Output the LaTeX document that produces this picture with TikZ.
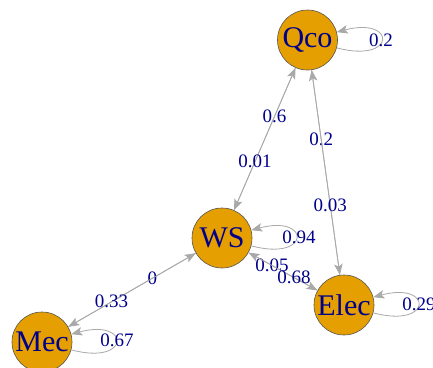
\documentclass[tikz,border=0pt]{standalone}
\usepackage{fontspec}
\setmainfont{Liberation Serif}
\usetikzlibrary{arrows.meta}
\definecolor{nodefill}{HTML}{E69F00}
\definecolor{nodeline}{HTML}{555555}
\definecolor{labblue}{RGB}{0,0,139}
\definecolor{edgegray}{HTML}{A9A9A9}
\begin{document}
\begin{tikzpicture}[x=1pt,y=-1pt,
  state/.style={circle, draw=nodeline, line width=0.6pt, fill=nodefill,
    minimum size=60pt, inner sep=0pt, text=labblue,
    font=\fontsize{30}{30}\selectfont},
  edgeline/.style={draw=edgegray, line width=0.8pt,
    -{Stealth[length=11pt,width=8.5pt,inset=2.5pt,fill=edgegray]}},
  lbl/.style={text=labblue, font=\fontsize{19}{19}\selectfont, inner sep=0pt},
  elbl/.style={lbl, pos=0.34}
]
\useasboundingbox (0,0) rectangle (433,367);
\clip (0,0) rectangle (433,367);

\node[state] (qco) at (307.5,40) {Qco};
\node[state] (ws) at (222,238) {WS};
\node[state] (mec) at (42,342) {Mec};
\node[state] (elec) at (344,305) {Elec};

% edges between nodes
\draw[edgeline] (qco) -- (ws) node[elbl] {0.6};
\draw[edgeline] (ws) -- (qco) node[elbl] {0.01};
\draw[edgeline] (qco) -- (elec) node[elbl] {0.2};
\draw[edgeline] (elec) -- (qco) node[elbl] {0.03};
\draw[edgeline] (ws) -- (elec) node[elbl] {0.05};
\draw[edgeline] (elec) -- (ws) node[elbl] {0.68};
\draw[edgeline] (ws) -- (mec) node[elbl] {0};
\draw[edgeline] (mec) -- (ws) node[elbl] {0.33};

% self loops
\draw[edgeline] (qco.-15) .. controls +(-15:62pt) and +(15:62pt) .. (qco.15);
\draw[edgeline] (ws.-15) .. controls +(-15:62pt) and +(15:62pt) .. (ws.15);
\draw[edgeline] (mec.-15) .. controls +(-15:62pt) and +(15:62pt) .. (mec.15);
\draw[edgeline] (elec.-15) .. controls +(-15:62pt) and +(15:62pt) .. (elec.15);

\node[lbl] (lq) at (381,40) {0.2};
\node[lbl] (lw) at (299,237) {0.94};
\node[lbl] (lm) at (117,340) {0.67};
\node[lbl] (le) at (419,304) {0.29};
\end{tikzpicture}
\end{document}
